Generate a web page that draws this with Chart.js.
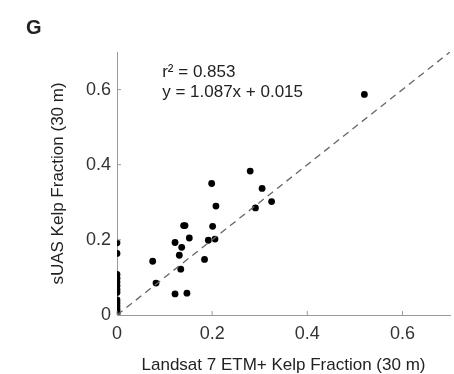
<!DOCTYPE html>
<html>
<head>
<meta charset="utf-8">
<script src="https://cdn.jsdelivr.net/npm/chart.js@4/dist/chart.umd.min.js"></script>
<style>
  html, body { margin: 0; padding: 0; background: #fff; }
  #wrap { width: 454px; height: 374px; position: relative; }
</style>
</head>
<body>
<div id="wrap"><canvas id="chart"></canvas></div>
<script>
// Data
const landsatX = [0, 0, 0, 0, 0, 0, 0, 0, 0, 0, 0, 0, 0, 0, 0,
  0.075, 0.082, 0.122, 0.122, 0.131, 0.134, 0.136, 0.140, 0.143, 0.147, 0.152,
  0.184, 0.192, 0.199, 0.201, 0.206, 0.208, 0.280, 0.291, 0.305, 0.325, 0.520];
const suasY = [0.192, 0.164, 0.108, 0.098, 0.088, 0.078, 0.068, 0.060, 0.040, 0.032, 0.024, 0.016, 0.010, 0.004, 0,
  0.143, 0.085, 0.193, 0.056, 0.159, 0.122, 0.180, 0.238, 0.238, 0.058, 0.205,
  0.148, 0.199, 0.350, 0.236, 0.202, 0.290, 0.383, 0.285, 0.337, 0.302, 0.587];
const oneToOne = [0, 0.7];
const tickValues = [0, 0.2, 0.4, 0.6];
const statsText = ['r\u00B2 = 0.853', 'y = 1.087x + 0.015'];

const FONT = "'Liberation Sans', Arial, Helvetica, sans-serif";

const points = landsatX.map((x, i) => ({ x: x, y: suasY[i] }));
const refLine = oneToOne.map(v => ({ x: v, y: v }));

// panel letter, stats text and inward ticks
const extras = {
  id: 'extras',
  afterDraw(chart) {
    const ctx = chart.ctx;
    const xs = chart.scales.x, ys = chart.scales.y;
    ctx.save();
    ctx.strokeStyle = '#9a9a9a';
    ctx.lineWidth = 1;
    tickValues.forEach(v => {
      const px = xs.getPixelForValue(v), py = ys.getPixelForValue(v);
      ctx.beginPath();
      ctx.moveTo(px, ys.bottom); ctx.lineTo(px, ys.bottom - 4);
      ctx.moveTo(xs.left, py); ctx.lineTo(xs.left + 4, py);
      ctx.stroke();
    });
    ctx.fillStyle = '#222';
    ctx.font = 'bold 20px ' + FONT;
    ctx.textBaseline = 'alphabetic';
    ctx.fillText('G', 26, 34);
    ctx.font = '17px ' + FONT;
    ctx.textBaseline = 'middle';
    ctx.fillText(statsText[0], xs.getPixelForValue(0.095), ys.getPixelForValue(0.645));
    ctx.fillText(statsText[1], xs.getPixelForValue(0.095), ys.getPixelForValue(0.592));
    ctx.restore();
  }
};

new Chart(document.getElementById('chart'), {
  type: 'scatter',
  data: {
    datasets: [
      {
        label: '1:1',
        data: refLine,
        showLine: true,
        borderColor: '#666',
        borderWidth: 1.3,
        borderDash: [7, 5],
        pointRadius: 0,
        fill: false
      },
      {
        label: 'pixels',
        data: points,
        backgroundColor: '#000',
        borderColor: '#000',
        pointRadius: 3.4,
        borderWidth: 0
      }
    ]
  },
  options: {
    responsive: true,
    maintainAspectRatio: false,
    animation: false,
    layout: { padding: { top: 52, right: 0, left: 0, bottom: 0 } },
    plugins: { legend: { display: false }, tooltip: { enabled: false } },
    scales: {
      x: {
        type: 'linear',
        min: 0, max: 0.7,
        afterBuildTicks: s => { s.ticks = tickValues.map(v => ({ value: v })); },
        afterFit: s => { s.height = 59; },
        grid: { display: false, drawTicks: false },
        border: { color: '#9a9a9a', width: 1 },
        ticks: { padding: 8, color: '#333', font: { family: FONT, size: 18 },
          callback: v => v === 0 ? '0' : v.toFixed(1), maxRotation: 0 },
        title: { display: true, text: 'Landsat 7 ETM+ Kelp Fraction (30 m)', color: '#222',
          font: { family: FONT, size: 17, lineHeight: 1 }, padding: { top: 0, bottom: 0 } }
      },
      y: {
        type: 'linear',
        min: 0, max: 0.7,
        afterBuildTicks: s => { s.ticks = tickValues.map(v => ({ value: v })); },
        afterFit: s => { s.width = 117; },
        grid: { display: false, drawTicks: false },
        border: { color: '#9a9a9a', width: 1 },
        ticks: { padding: 6, color: '#333', font: { family: FONT, size: 18 },
          callback: v => v === 0 ? '0' : v.toFixed(1) },
        title: { display: true, text: 'sUAS Kelp Fraction (30 m)', color: '#222',
          font: { family: FONT, size: 17, lineHeight: 1 }, padding: { top: 50, bottom: 0 } }
      }
    }
  },
  plugins: [extras]
});
</script>
</body>
</html>
